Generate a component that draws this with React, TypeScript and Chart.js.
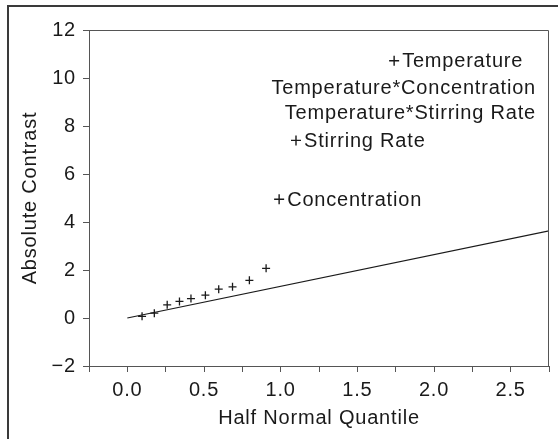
import React, { useEffect, useRef } from 'react';
import { Chart, registerables } from 'chart.js';

Chart.register(...registerables);

// ---- data ----
const smallQuantiles = [0.096, 0.176, 0.26, 0.34, 0.415, 0.509, 0.596, 0.686, 0.796, 0.905];
const smallContrasts = [0.07, 0.2, 0.55, 0.69, 0.81, 0.95, 1.2, 1.3, 1.57, 2.07];

const effectNames = [
  'Concentration',
  'Stirring Rate',
  'Temperature*Stirring Rate',
  'Temperature*Concentration',
  'Temperature',
];
const effectQuantiles = [0.99, 1.1, 1.24, 1.43, 1.74];
const effectContrasts = [4.95, 7.4, 8.58, 9.62, 10.72];

const fitLineX = [0, 2.75];
const fitLineY = [0, 3.63];

const xMin = -0.25;
const xMax = 2.75;
const xStep = 0.25;
const yMin = -2;
const yMax = 12;
const yStep = 2;

const xTitle = 'Half Normal Quantile';
const yTitle = 'Absolute Contrast';

// ---- styles ----
const FONT = "'Liberation Sans', Arial, Helvetica, sans-serif";
const FONT_SIZE = 20;
const SPACING = '0.8px';
const TEXT = '#1a1a1a';
const AXIS = '#555';

const stylePlugin = {
  id: 'frameAndSpacing',
  beforeDraw(chart: any) {
    chart.ctx.letterSpacing = SPACING;
  },
  afterDraw(chart: any) {
    const { ctx, chartArea } = chart;
    ctx.save();
    ctx.strokeStyle = AXIS;
    ctx.lineWidth = 1;
    ctx.beginPath();
    ctx.moveTo(Math.round(chartArea.left) + 0.5, Math.round(chartArea.top) + 0.5);
    ctx.lineTo(Math.round(chartArea.right) - 0.5, Math.round(chartArea.top) + 0.5);
    ctx.lineTo(Math.round(chartArea.right) - 0.5, Math.round(chartArea.bottom));
    ctx.stroke();
    ctx.restore();
  },
};

const labelPlugin = {
  id: 'effectLabels',
  afterDatasetsDraw(chart: any) {
    const ctx = chart.ctx;
    const meta = chart.getDatasetMeta(1);
    ctx.save();
    ctx.font = `${FONT_SIZE}px ${FONT}`;
    ctx.letterSpacing = SPACING;
    ctx.textBaseline = 'middle';
    meta.data.forEach((pt: any, i: number) => {
      const name = effectNames[i];
      if (name.includes('*')) {
        ctx.textAlign = 'right';
        const w = ctx.measureText(name).width;
        const xr = chart.chartArea.right - 13;
        ctx.fillStyle = '#fff';
        ctx.fillRect(xr - w - 3, pt.y - 10, w + 5, 20);
        ctx.fillStyle = TEXT;
        ctx.fillText(name, xr, pt.y + 1);
      } else {
        ctx.textAlign = 'left';
        ctx.fillStyle = TEXT;
        ctx.fillText(name, pt.x + 8, pt.y + 1);
      }
    });
    ctx.restore();
  },
};

export default function App() {
  const ref = useRef<HTMLCanvasElement | null>(null);

  useEffect(() => {
    if (!ref.current) return;
    const font = { family: FONT, size: FONT_SIZE, lineHeight: 1.2 };
    const chart = new Chart(ref.current, {
      type: 'scatter',
      data: {
        datasets: [
          {
            data: smallQuantiles.map((q, i) => ({ x: q, y: smallContrasts[i] })),
            pointStyle: 'cross',
            pointRadius: 4,
            pointHoverRadius: 4,
            borderColor: TEXT,
            backgroundColor: TEXT,
            borderWidth: 1.3,
            showLine: false,
          },
          {
            data: effectQuantiles.map((q, i) => ({ x: q, y: effectContrasts[i] })),
            pointStyle: 'cross',
            pointRadius: 5,
            pointHoverRadius: 5,
            borderColor: TEXT,
            backgroundColor: TEXT,
            borderWidth: 1.4,
            showLine: false,
          },
          {
            type: 'line',
            data: fitLineX.map((x, i) => ({ x, y: fitLineY[i] })),
            borderColor: TEXT,
            borderWidth: 1.2,
            pointRadius: 0,
            showLine: true,
            fill: false,
          } as any,
        ],
      },
      options: {
        animation: false,
        responsive: false,
        devicePixelRatio: 1,
        events: [],
        layout: { padding: { left: 0, top: 30, right: 9, bottom: 0 } },
        plugins: {
          legend: { display: false },
          tooltip: { enabled: false },
        },
        scales: {
          x: {
            type: 'linear',
            min: xMin,
            max: xMax,
            afterFit(s: any) {
              s.height = 73;
            },
            ticks: {
              stepSize: xStep,
              autoSkip: false,
              maxRotation: 0,
              minRotation: 0,
              padding: 6,
              color: TEXT,
              font,
              callback: (v: any) => {
                const n = Number(v);
                return Math.abs(n * 2 - Math.round(n * 2)) < 1e-6 && n >= -1e-9 ? n.toFixed(1) : '';
              },
            },
            grid: {
              display: true,
              drawOnChartArea: false,
              drawTicks: true,
              tickLength: 6,
              tickColor: AXIS,
              tickWidth: 1,
            },
            border: { display: true, color: AXIS, width: 1 },
            title: {
              display: true,
              text: xTitle,
              color: TEXT,
              font,
              padding: { top: 0, bottom: 9 },
            },
          },
          y: {
            type: 'linear',
            min: yMin,
            max: yMax,
            afterFit(s: any) {
              s.width = 89;
            },
            ticks: {
              stepSize: yStep,
              padding: 7,
              color: TEXT,
              font,
              callback: (v: any) => {
                const n = Number(v);
                return n < 0 ? '\u2212' + Math.abs(n) : String(n);
              },
            },
            grid: {
              display: true,
              drawOnChartArea: false,
              drawTicks: true,
              tickLength: 6,
              tickColor: AXIS,
              tickWidth: 1,
            },
            border: { display: true, color: AXIS, width: 1 },
            title: {
              display: true,
              text: yTitle,
              color: TEXT,
              font,
              padding: { top: 18, bottom: 0 },
            },
          },
        },
      },
      plugins: [stylePlugin, labelPlugin],
    });
    return () => chart.destroy();
  }, []);

  return (
    <div
      style={{
        position: 'absolute',
        left: 0,
        top: 0,
        width: 558,
        height: 439,
        overflow: 'hidden',
        background: '#fff',
      }}
    >
      <div
        style={{
          position: 'absolute',
          left: 7,
          top: 5,
          width: 700,
          height: 700,
          borderLeft: '2px solid #3a3a3a',
          borderTop: '2px solid #3a3a3a',
        }}
      />
      <canvas
        ref={ref}
        width={558}
        height={439}
        style={{ position: 'absolute', left: 0, top: 0, width: 558, height: 439 }}
      />
    </div>
  );
}
